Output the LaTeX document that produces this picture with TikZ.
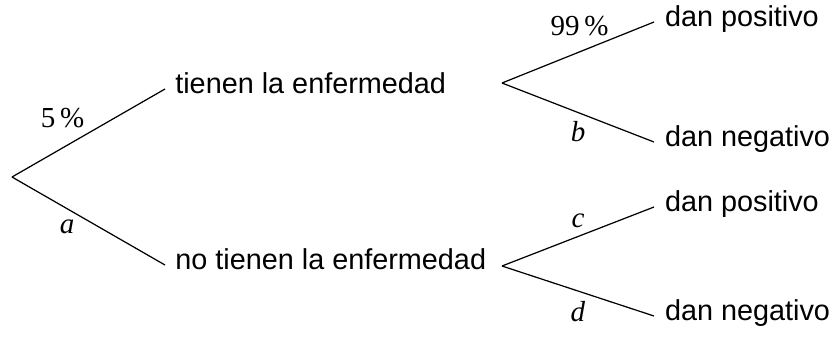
\documentclass[tikz,border=0pt]{standalone}
\usepackage{fontspec}
\setmainfont{Liberation Serif}
\setsansfont{Liberation Sans}
\usetikzlibrary{positioning}

\begin{document}
\begin{tikzpicture}[x=0.02cm,y=-0.02cm,line width=0.7pt,
		rama/.style={font=\sffamily\fontsize{16.4}{19}\selectfont, text height=0.75em, text depth=0.22em},
		prob/.style={font=\fontsize{16.5}{19}\selectfont, inner sep=0pt}]
	\useasboundingbox (0,0) rectangle (833,343);

	% primer nivel
	\coordinate (raiz) at (12,177);
	\coordinate (e) at (165,89);
	\coordinate (ne) at (165,265);
	\node [rama, right=2.2pt of e] (enf) {tienen la enfermedad};
	\node [rama, right=2.2pt of ne] (noenf) {no tienen la enfermedad};

	\draw (raiz) -- (e) node [prob, pos=0.33, above=11pt] (p5) {5\,\%};
	\draw (raiz) -- (ne) node [prob, pos=0.36, below=6.2pt] (pa) {\textit{a}};

	% segundo nivel
	\coordinate (fe) at (502,83);
	\coordinate (fne) at (502,266);
	\coordinate (ep) at (654,22);
	\coordinate (en) at (654,142);
	\coordinate (nep) at (654,207);
	\coordinate (nen) at (654,316);
	\node [rama, right=2.6pt of ep] (pos1) {dan positivo};
	\node [rama, right=2.6pt of en] (neg1) {dan negativo};
	\node [rama, right=2.6pt of nep] (pos2) {dan positivo};
	\node [rama, right=2.6pt of nen] (neg2) {dan negativo};

	\draw (fe) -- (ep) node [prob, pos=0.51, above=8.5pt] (p99) {99\,\%};
	\draw (fe) -- (en) node [prob, pos=0.5, below=4.5pt] (pb) {\textit{b}};
	\draw (fne) -- (nep) node [prob, pos=0.5, above=4.4pt] (pc) {\textit{c}};
	\draw (fne) -- (nen) node [prob, pos=0.5, below=5.6pt] (pd) {\textit{d}};
\end{tikzpicture}
\end{document}
